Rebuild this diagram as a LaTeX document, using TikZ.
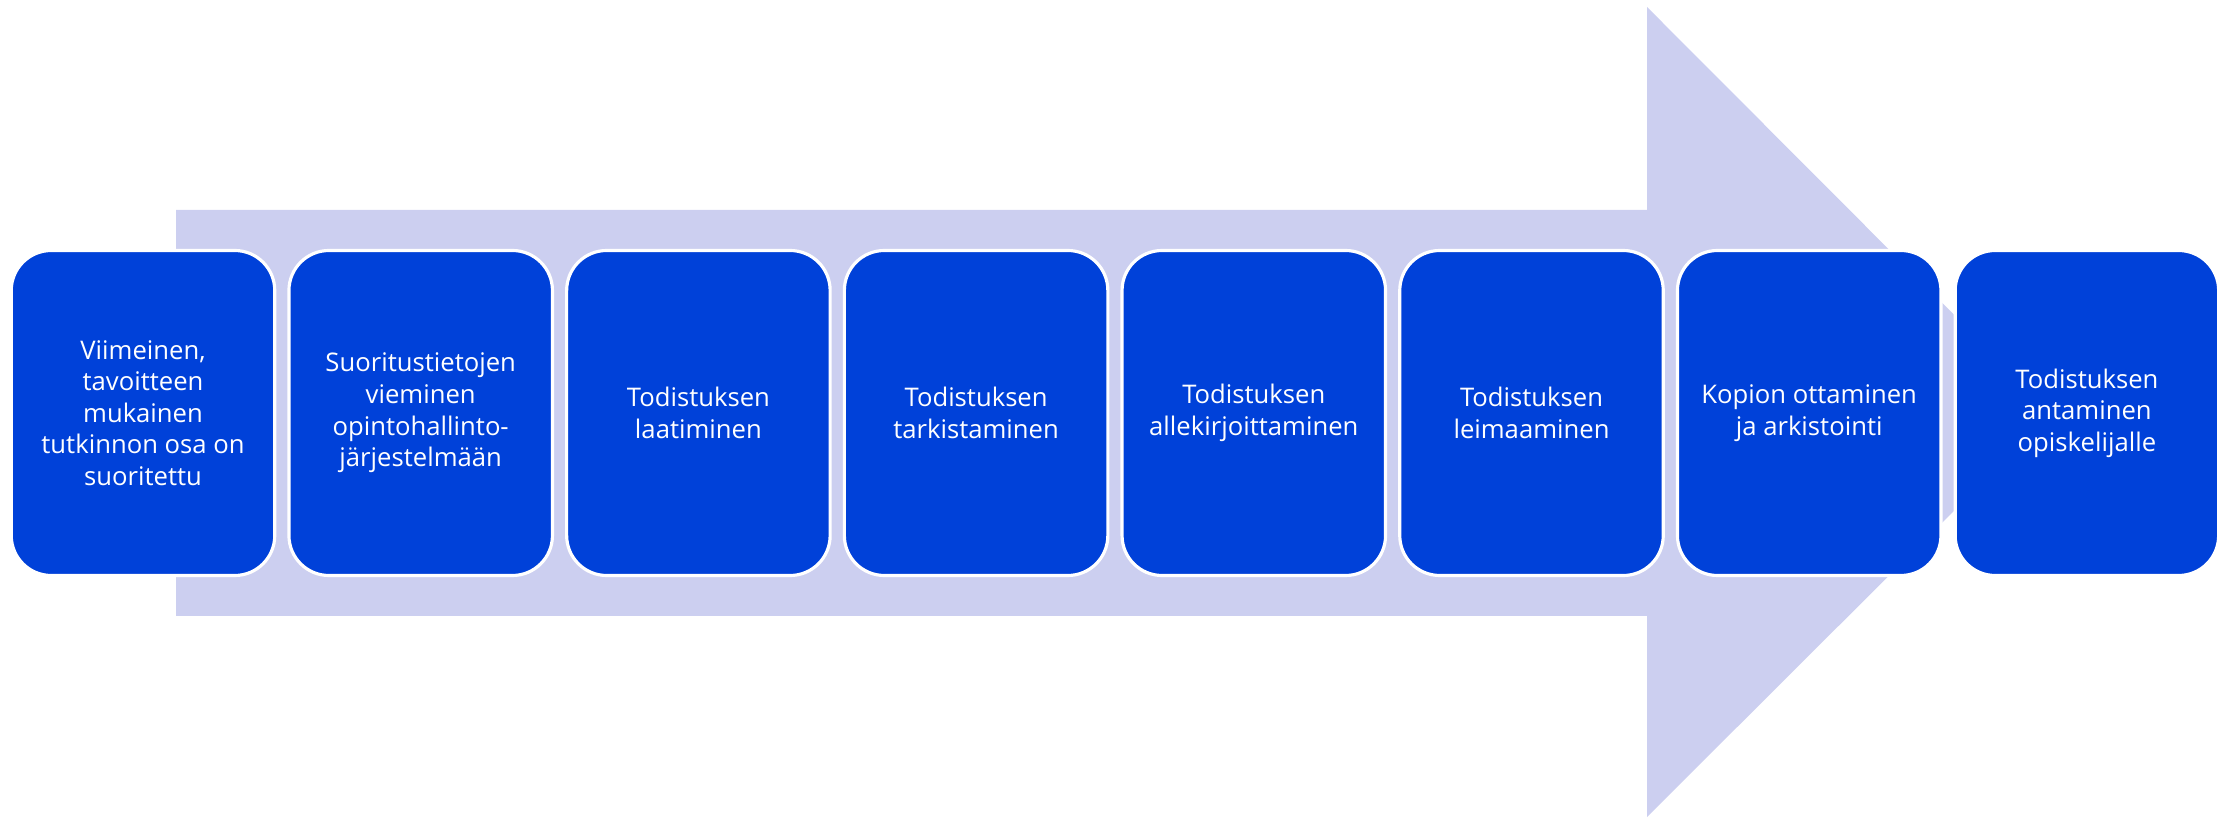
\documentclass[tikz,border=0pt]{standalone}
\usepackage{xcolor}
\usepackage{fontspec}
\usepackage{tikz}
\setmainfont{Open Sans}
\definecolor{stepblue}{RGB}{0,65,217}
\definecolor{bandlila}{RGB}{204,207,240}
\tikzset{stepbox/.style={rectangle, rounded corners=0.4cm, fill=stepblue, draw=white, line width=0.9pt,
	minimum width=2.635cm, minimum height=3.25cm, text=white, align=center,
	font=\fontsize{7.3pt}{9pt}\selectfont}}

\begin{document}
\begin{tikzpicture}
	\newcommand\yc{4.04}
	\newcommand\px{2.777}
	\newcommand\xa{1.43}

	\useasboundingbox (0,0) rectangle (22.26,8.17);

	% big arrow behind the steps
	\fill[bandlila] (1.76,\yc-2.03) -- (16.47,\yc-2.03) -- (16.47,0) -- (20.52,\yc) -- (16.47,8.1) -- (16.47,\yc+2.03) -- (1.76,\yc+2.03) -- cycle;

	\node[stepbox] (s1) at (\xa,\yc) {Viimeinen,\\tavoitteen\\mukainen\\tutkinnon osa on\\suoritettu};
	\node[stepbox] (s2) at (\xa+\px,\yc) {Suoritustietojen\\vieminen\\opintohallinto-\\järjestelmään};
	\node[stepbox] (s3) at (\xa+2*\px,\yc) {Todistuksen\\laatiminen};
	\node[stepbox] (s4) at (\xa+3*\px,\yc) {Todistuksen\\tarkistaminen};
	\node[stepbox] (s5) at (\xa+4*\px,\yc) {Todistuksen\\allekirjoittaminen};
	\node[stepbox] (s6) at (\xa+5*\px,\yc) {Todistuksen\\leimaaminen};
	\node[stepbox] (s7) at (\xa+6*\px,\yc) {Kopion ottaminen\\ja arkistointi};
	\node[stepbox] (s8) at (\xa+7*\px,\yc) {Todistuksen\\antaminen\\opiskelijalle};
\end{tikzpicture}
\end{document}
